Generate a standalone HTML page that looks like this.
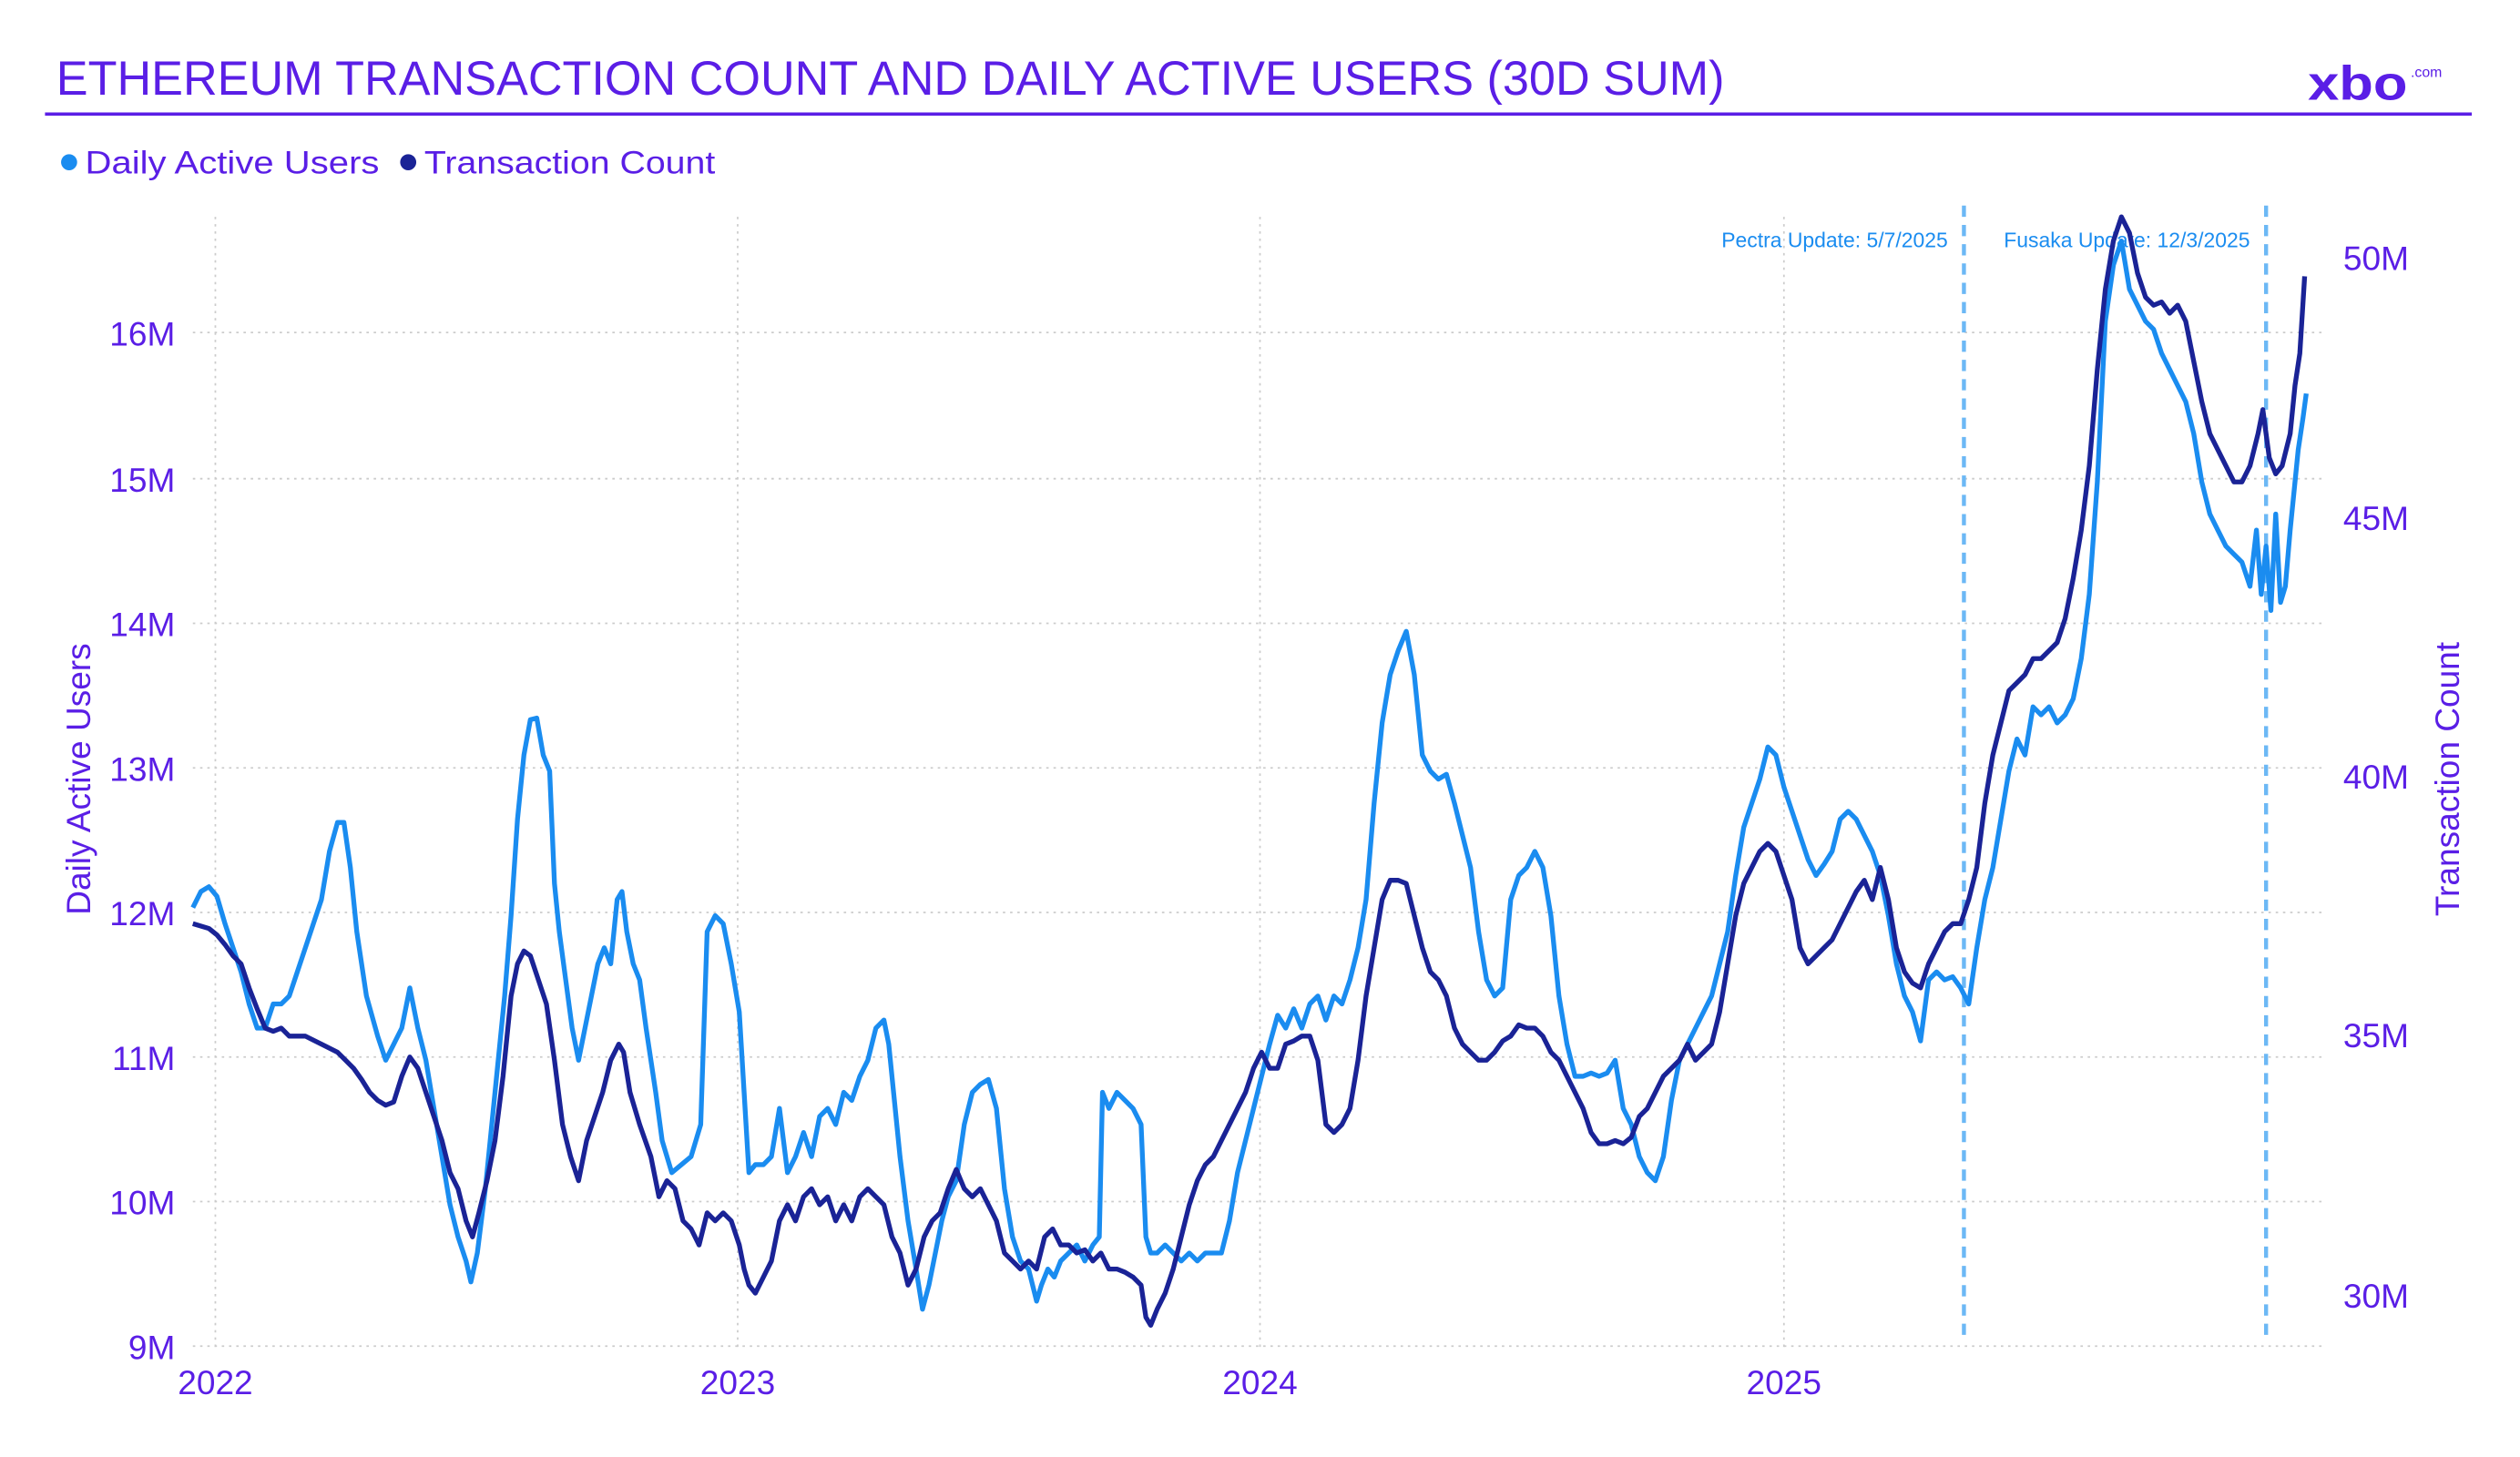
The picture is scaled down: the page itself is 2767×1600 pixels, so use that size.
<!DOCTYPE html>
<html><head><meta charset="utf-8"><style>html,body{margin:0;padding:0;background:#fff}svg{display:block}</style></head>
<body>
<svg width="2767" height="1600" viewBox="0 0 1568 907" preserveAspectRatio="none" xmlns="http://www.w3.org/2000/svg" font-family="'Liberation Sans', sans-serif">
<rect width="1570" height="910" fill="#fff"/>
<text x="35" y="59" font-size="30" fill="#5a1ee6" textLength="1038" lengthAdjust="spacingAndGlyphs">ETHEREUM TRANSACTION COUNT AND DAILY ACTIVE USERS (30D SUM)</text>
<text x="1436" y="62" font-size="30" font-weight="bold" fill="#5a1ee6" textLength="62" lengthAdjust="spacingAndGlyphs">xbo</text>
<text x="1500" y="48" font-size="9" fill="#5a1ee6">.com</text>
<rect x="28" y="70" width="1510" height="2" fill="#5a1ee6"/>
<circle cx="43" cy="101" r="5" fill="#1a8cf0"/>
<text x="53" y="108" font-size="20" fill="#5a1ee6" textLength="183" lengthAdjust="spacingAndGlyphs">Daily Active Users</text>
<circle cx="254" cy="101" r="5" fill="#1a2396"/>
<text x="264" y="108" font-size="20" fill="#5a1ee6" textLength="181" lengthAdjust="spacingAndGlyphs">Transaction Count</text>
<g stroke="#ccc" stroke-width="1" stroke-dasharray="1.5 3">
<line x1="120" x2="1445" y1="207" y2="207"/><line x1="120" x2="1445" y1="298" y2="298"/><line x1="120" x2="1445" y1="388" y2="388"/><line x1="120" x2="1445" y1="478" y2="478"/><line x1="120" x2="1445" y1="568" y2="568"/><line x1="120" x2="1445" y1="658" y2="658"/><line x1="120" x2="1445" y1="748" y2="748"/><line x1="120" x2="1445" y1="838" y2="838"/>
<line x1="134" x2="134" y1="135" y2="840"/><line x1="459" x2="459" y1="135" y2="840"/><line x1="784" x2="784" y1="135" y2="840"/><line x1="1110" x2="1110" y1="135" y2="840"/>
</g>
<g stroke="#6cb8f5" stroke-width="2.5" stroke-dasharray="7 5"><line x1="1222" x2="1222" y1="128" y2="835"/><line x1="1410" x2="1410" y1="128" y2="835"/></g>
<text x="1212" y="154" font-size="13" fill="#1a8cf0" text-anchor="end">Pectra Update: 5/7/2025</text>
<text x="1400" y="154" font-size="13" fill="#1a8cf0" text-anchor="end">Fusaka Update: 12/3/2025</text>
<g font-size="21" fill="#5a1ee6" text-anchor="end">
<text x="109" y="215">16M</text><text x="109" y="306">15M</text><text x="109" y="396">14M</text><text x="109" y="486">13M</text><text x="109" y="576">12M</text><text x="109" y="666">11M</text><text x="109" y="756">10M</text><text x="109" y="846">9M</text>
</g>
<g font-size="21" fill="#5a1ee6">
<text x="1458" y="168">50M</text><text x="1458" y="330">45M</text><text x="1458" y="491">40M</text><text x="1458" y="652">35M</text><text x="1458" y="814">30M</text>
</g>
<g font-size="21" fill="#5a1ee6" text-anchor="middle">
<text x="134" y="868">2022</text><text x="459" y="868">2023</text><text x="784" y="868">2024</text><text x="1110" y="868">2025</text>
</g>
<text transform="translate(56,485) rotate(-90)" font-size="21" fill="#5a1ee6" text-anchor="middle">Daily Active Users</text>
<text transform="translate(1530,485) rotate(-90)" font-size="21" fill="#5a1ee6" text-anchor="middle">Transaction Count</text>
<polyline fill="none" stroke="#1a8cf0" stroke-width="3" stroke-linejoin="round" points="120,565 125,555 130,552 135,558 140,575 145,590 150,605 155,625 160,640 165,640 170,625 175,625 180,620 185,605 190,590 195,575 200,560 205,530 210,512 214,512 218,540 222,580 228,620 235,645 240,660 245,650 250,640 255,615 260,640 265,660 270,690 275,720 280,750 285,770 290,785 293,798 297,780 302,740 308,680 314,620 318,570 322,510 326,470 330,448 334,447 338,470 342,480 345,550 348,580 352,610 356,640 360,660 364,640 368,620 372,600 376,590 380,600 384,560 387,555 390,580 394,600 398,610 402,640 408,680 412,710 418,730 424,725 430,720 436,700 440,580 445,570 450,575 455,600 460,630 463,680 466,730 470,725 475,725 480,720 485,690 490,730 495,720 500,705 505,720 510,695 515,690 520,700 525,680 530,685 535,670 540,660 545,640 550,635 553,650 556,680 560,720 565,760 570,790 574,815 578,800 582,780 586,760 590,745 595,735 600,700 605,680 610,675 615,672 620,690 625,740 630,770 635,785 640,790 645,810 648,800 652,790 656,795 660,785 665,780 670,775 675,785 680,775 684,770 686,680 690,690 695,680 700,685 705,690 710,700 713,770 716,780 720,780 725,775 730,780 735,785 740,780 745,785 750,780 755,780 760,780 765,760 770,730 775,710 780,690 785,670 790,650 795,632 800,640 805,628 810,640 815,625 820,620 825,635 830,620 835,625 840,610 845,590 850,560 855,500 860,450 865,420 870,405 875,393 880,420 885,470 890,480 895,485 900,482 905,500 910,520 915,540 920,580 925,610 930,620 935,615 940,560 945,545 950,540 955,530 960,540 965,570 970,620 975,650 980,670 985,670 990,668 995,670 1000,668 1005,660 1010,690 1015,700 1020,720 1025,730 1030,735 1035,720 1040,685 1045,660 1050,650 1055,640 1060,630 1065,620 1070,600 1075,580 1080,545 1085,515 1090,500 1095,485 1100,465 1105,470 1110,490 1115,505 1120,520 1125,535 1130,545 1135,538 1140,530 1145,510 1150,505 1155,510 1160,520 1165,530 1170,545 1175,570 1180,600 1185,620 1190,630 1195,648 1200,610 1205,605 1210,610 1215,608 1220,615 1225,625 1230,590 1235,560 1240,540 1245,510 1250,480 1255,460 1260,470 1265,440 1270,445 1275,440 1280,450 1285,445 1290,435 1295,410 1300,370 1305,300 1310,200 1315,165 1320,150 1325,180 1330,190 1335,200 1340,205 1345,220 1350,230 1355,240 1360,250 1365,270 1370,300 1375,320 1380,330 1385,340 1390,345 1395,350 1400,365 1404,330 1407,370 1410,340 1413,380 1416,320 1419,375 1422,365 1425,330 1430,280 1433,260 1435,245"/>
<polyline fill="none" stroke="#1a2396" stroke-width="3" stroke-linejoin="round" points="120,575 130,578 135,582 140,588 145,595 150,600 155,615 160,628 165,640 170,642 175,640 180,645 190,645 200,650 210,655 215,660 220,665 225,672 230,680 235,685 240,688 245,686 250,670 255,658 260,665 265,680 270,695 275,710 280,730 285,740 290,760 294,770 298,755 303,735 308,710 313,670 318,620 322,600 326,592 330,595 335,610 340,625 345,660 350,700 355,720 360,735 365,710 370,695 375,680 380,660 385,650 388,655 392,680 398,700 405,720 410,745 415,735 420,740 425,760 430,765 435,775 440,755 445,760 450,755 455,760 460,775 463,790 466,800 470,805 475,795 480,785 485,760 490,750 495,760 500,745 505,740 510,750 515,745 520,760 525,750 530,760 535,745 540,740 545,745 550,750 555,770 560,780 565,800 570,790 575,770 580,760 585,755 590,740 595,728 600,740 605,745 610,740 615,750 620,760 625,780 630,785 635,790 640,785 645,790 650,770 655,765 660,775 665,775 670,780 675,778 680,785 685,780 690,790 695,790 700,792 705,795 710,800 713,820 716,825 720,815 725,805 730,790 735,770 740,750 745,735 750,725 755,720 760,710 765,700 770,690 775,680 780,665 785,655 790,665 795,665 800,650 805,648 810,645 815,645 820,660 825,700 830,705 835,700 840,690 845,660 850,620 855,590 860,560 865,548 870,548 875,550 880,570 885,590 890,605 895,610 900,620 905,640 910,650 915,655 920,660 925,660 930,655 935,648 940,645 945,638 950,640 955,640 960,645 965,655 970,660 975,670 980,680 985,690 990,705 995,712 1000,712 1005,710 1010,712 1015,708 1020,695 1025,690 1030,680 1035,670 1040,665 1045,660 1050,650 1055,660 1060,655 1065,650 1070,630 1075,600 1080,570 1085,550 1090,540 1095,530 1100,525 1105,530 1110,545 1115,560 1120,590 1125,600 1130,595 1135,590 1140,585 1145,575 1150,565 1155,555 1160,548 1165,560 1170,540 1175,560 1180,590 1185,605 1190,612 1195,615 1200,600 1205,590 1210,580 1215,575 1220,575 1225,560 1230,540 1235,500 1240,470 1245,450 1250,430 1255,425 1260,420 1265,410 1270,410 1275,405 1280,400 1285,385 1290,360 1295,330 1300,290 1305,230 1310,180 1315,150 1320,135 1325,145 1330,170 1335,185 1340,190 1345,188 1350,195 1355,190 1360,200 1365,225 1370,250 1375,270 1380,280 1385,290 1390,300 1395,300 1400,290 1405,270 1408,255 1412,285 1416,295 1420,290 1425,270 1428,240 1431,220 1434,172"/>
</svg>
</body></html>
